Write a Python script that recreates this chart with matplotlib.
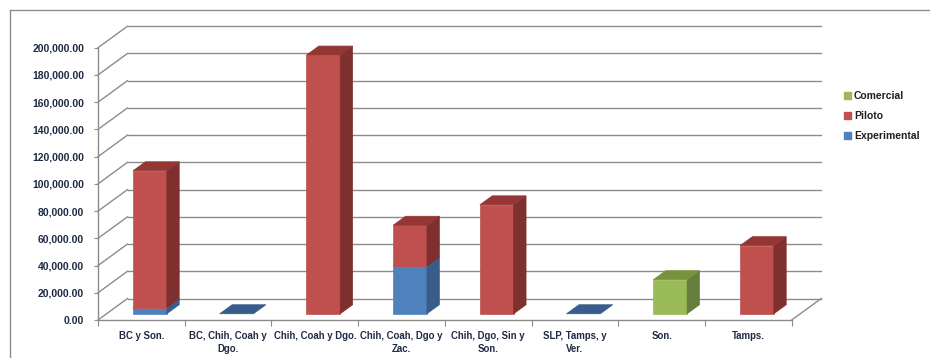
import numpy as np
import matplotlib
matplotlib.use("Agg")
import matplotlib.pyplot as plt
from matplotlib.patches import Polygon, Patch
from matplotlib.ticker import FuncFormatter

plt.rcParams['font.family'] = ['Liberation Sans Narrow', 'Liberation Sans', 'DejaVu Sans']

# data (NaN = no bar, 0 = flat bar)
categories = ["BC y Son.", "BC, Chih, Coah y\nDgo.", "Chih, Coah y Dgo.",
              "Chih, Coah, Dgo y\nZac.", "Chih, Dgo, Sin y\nSon.",
              "SLP, Tamps, y\nVer.", "Son.", "Tamps."]
nan = np.nan
experimental = [4500, 0, nan, 35000, nan, 0, nan, nan]
piloto = [100500, nan, 190000, 30000, 80000, nan, nan, 50000]
comercial = [nan, nan, nan, nan, nan, nan, 25000, nan]
series_names = ["Experimental", "Piloto", "Comercial"]

# colours: front, side, top
colors = {
    "Experimental": ("#4F81BD", "#385D8A", "#3B6496"),
    "Piloto": ("#C0504D", "#7F302E", "#943634"),
    "Comercial": ("#9BBB59", "#677D3B", "#76923C"),
}

W, H = 930, 358
fig = plt.figure(figsize=(W / 100, H / 100), dpi=100)

# front plane of the plot in pixels
x0, x1 = 98, 791.7
y0, y1 = 320, 47.7
ax = fig.add_axes([x0 / W, (H - y0) / H, (x1 - x0) / W, (y0 - y1) / H])
ncat = len(categories)
ymax = 200000
ax.set_xlim(0, ncat)
ax.set_ylim(0, ymax)

# depth offset (oblique projection) in data units
px_x = ncat / (x1 - x0)
px_y = ymax / (y0 - y1)
DX = 29.5 * px_x
DY = 21.5 * px_y

grid_c = "#8C8C8C"
# back wall and left wall gridlines
for v in np.arange(0, ymax + 1, 20000):
    ax.plot([DX, ncat + DX], [v + DY, v + DY], color=grid_c, lw=1, clip_on=False, zorder=1)
    ax.plot([0, DX], [v, v + DY], color=grid_c, lw=1, clip_on=False, zorder=1)
# right floor edge
ax.plot([ncat, ncat + DX], [0, DY], color=grid_c, lw=1, clip_on=False, zorder=1)

# bars
bw = 0.39
d0, d1 = 0.29, 0.71
stack = {"Experimental": experimental, "Piloto": piloto, "Comercial": comercial}
for i in range(ncat):
    c = i + 0.5
    xl, xr = c - bw / 2, c + bw / 2
    base = 0
    for name in series_names:
        v = stack[name][i]
        if np.isnan(v):
            continue
        fc, sc, tc = colors[name]
        yb, yt = base, base + v
        if v > 0:
            front = [(xl + d0 * DX, yb + d0 * DY), (xr + d0 * DX, yb + d0 * DY),
                     (xr + d0 * DX, yt + d0 * DY), (xl + d0 * DX, yt + d0 * DY)]
            side = [(xr + d0 * DX, yb + d0 * DY), (xr + d1 * DX, yb + d1 * DY),
                    (xr + d1 * DX, yt + d1 * DY), (xr + d0 * DX, yt + d0 * DY)]
            ax.add_patch(Polygon(front, closed=True, fc=fc, ec=fc, lw=0.5, clip_on=False, zorder=3))
            ax.add_patch(Polygon(side, closed=True, fc=sc, ec=sc, lw=0.5, clip_on=False, zorder=3))
        top = [(xl + d0 * DX, yt + d0 * DY), (xr + d0 * DX, yt + d0 * DY),
               (xr + d1 * DX, yt + d1 * DY), (xl + d1 * DX, yt + d1 * DY)]
        tcol = tc if v > 0 else sc
        ax.add_patch(Polygon(top, closed=True, fc=tcol, ec=tcol, lw=0.5, clip_on=False, zorder=3))
        base = yt

# axes styling
for s in ["top", "right"]:
    ax.spines[s].set_visible(False)
for s in ["left", "bottom"]:
    ax.spines[s].set_color(grid_c)
    ax.spines[s].set_linewidth(1)
ax.patch.set_alpha(0)

ax.set_yticks(np.arange(0, ymax + 1, 20000))
ax.yaxis.set_major_formatter(FuncFormatter(lambda v, p: f"{v:,.2f}"))
ax.tick_params(axis="y", direction="out", length=3, color=grid_c, pad=7,
               labelsize=7.5, labelcolor="#1F2A44")
for t in ax.get_yticklabels():
    t.set_fontweight("bold")

ax.set_xticks(np.arange(0, ncat + 1))
ax.set_xticklabels([])
ax.set_xticks(np.arange(ncat) + 0.5, minor=True)
ax.set_xticklabels(categories, minor=True, fontsize=6.9, fontweight="bold",
                   color="#1F2A44", linespacing=1.4)
ax.tick_params(axis="x", which="major", direction="out", length=4, color=grid_c)
ax.tick_params(axis="x", which="minor", length=0, pad=8)

# legend
handles = [Patch(fc=colors[n][0], ec=colors[n][0]) for n in ["Comercial", "Piloto", "Experimental"]]
leg = fig.legend(handles, ["Comercial", "Piloto", "Experimental"], loc="upper left",
                 bbox_to_anchor=(835 / W, 1 - 82 / H), frameon=False,
                 handlelength=0.6, handleheight=0.6, handletextpad=0.3,
                 labelspacing=0.95, prop={"size": 7.5, "weight": "bold"})
for t in leg.get_texts():
    t.set_color("#1F1F1F")

# outer chart border (top and left)
fig.add_artist(plt.Line2D([10 / W, 1], [1 - 10 / H, 1 - 10 / H], color="#8C8C8C", lw=1))
fig.add_artist(plt.Line2D([10 / W, 10 / W], [0, 1 - 10 / H], color="#8C8C8C", lw=1))

fig.savefig("out.png", dpi=100)
